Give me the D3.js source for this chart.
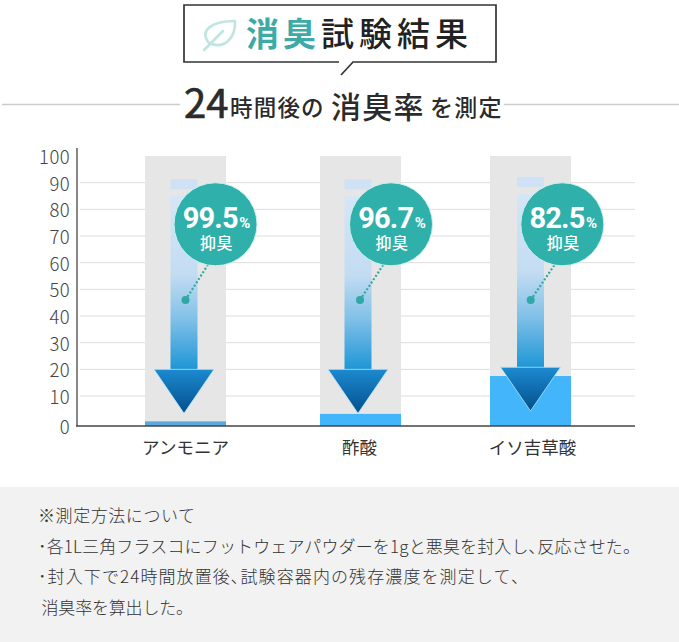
<!DOCTYPE html>
<html lang="ja">
<head>
<meta charset="utf-8">
<script src="https://cdn.jsdelivr.net/npm/d3@7/dist/d3.min.js"></script>
<style>
html,body{margin:0;padding:0;background:#fff;overflow:hidden}
svg{display:block}
text{font-family:"Noto Sans CJK JP","Noto Sans",sans-serif}
</style>
</head>
<body>
<svg id="chart" width="679" height="642"></svg>
<script>
// Deodorising test results: odour remaining after 24 hours, per substance
const categories = ["アンモニア", "酢酸", "イソ吉草酸"];
const reductionRates = [99.5, 96.7, 82.5];
const yTicks = [0, 10, 20, 30, 40, 50, 60, 70, 80, 90, 100];
const notes = [
  "※測定方法について",
  "･各1L三角フラスコにフットウェアパウダーを1gと悪臭を封入し､反応させた。",
  "･封入下で24時間放置後､試験容器内の残存濃度を測定して､",
  " 消臭率を算出した。"
];

const svg = d3.select("#chart");
const defs = svg.append("defs");

const y = d3.scaleLinear().domain([0, 100]).range([422.7, 156]);
const x = d3.scaleOrdinal().domain(categories).range([145, 320, 490]);
const barWidth = 81;
const baseY = 426;

// Header box with its speech-bubble tail
svg.append("path")
  .attr("d", "M339,62H184V5H496V62H353L341,75")
  .attr("fill", "none").attr("stroke", "#333").attr("stroke-width", 1.7);

// Leaf icon
const leaf = svg.append("g").attr("fill", "none").attr("stroke", "#bfe5e1")
  .attr("stroke-width", 2.6).attr("stroke-linecap", "round").attr("stroke-linejoin", "round");
leaf.append("path").attr("d", "M209,43C198,30 213,21 235,21C236,38 224,50 209,43Z");
leaf.append("path").attr("d", "M204,50L223,31");

svg.append("text").attr("x", 246).attr("y", 46).attr("font-size", 33).attr("font-weight", 700)
  .attr("letter-spacing", 4).attr("fill", "#3eaaa6").text("消臭");
svg.append("text").attr("x", 321).attr("y", 46).attr("font-size", 33).attr("font-weight", 500)
  .attr("letter-spacing", 5).attr("fill", "#222").text("試験結果");

// Subtitle flanked by rules
svg.append("line").attr("x1", 2).attr("x2", 180).attr("y1", 104.5).attr("y2", 104.5)
  .attr("stroke", "#ccc").attr("stroke-width", 1.4);
svg.append("line").attr("x1", 504).attr("x2", 679).attr("y1", 104.5).attr("y2", 104.5)
  .attr("stroke", "#ccc").attr("stroke-width", 1.4);
const subtitle = svg.append("g").attr("fill", "#2b2b2b").attr("font-weight", 500);
subtitle.append("text").attr("x", 184).attr("y", 118).attr("font-size", 40)
  .attr("font-family", "Liberation Sans").attr("font-weight", 400).attr("stroke", "#2b2b2b").attr("stroke-width", 0.7).text("24");
subtitle.append("text").attr("x", 230).attr("y", 116).attr("font-size", 22.5).attr("letter-spacing", 1.2).text("時間後の");
subtitle.append("text").attr("x", 331).attr("y", 118).attr("font-size", 30).attr("letter-spacing", 1.2).text("消臭率");
subtitle.append("text").attr("x", 430).attr("y", 116).attr("font-size", 23).attr("letter-spacing", 1.2).text("を測定");

// Gridlines sit behind the bars
const gridRight = 635;
svg.append("g").selectAll("line").data(yTicks.filter(t => t > 0 && t < 100)).join("line")
  .attr("x1", 80).attr("x2", gridRight)
  .attr("y1", d => y(d)).attr("y2", d => y(d))
  .attr("stroke", "#ddd").attr("stroke-width", 1);

// Full-height grey tracks
svg.append("g").selectAll("rect").data(categories).join("rect")
  .attr("x", d => x(d)).attr("width", barWidth)
  .attr("y", y(100)).attr("height", d => baseY - y(100))
  .attr("fill", "#e6e6e6");

// Remaining odour = 100 - reduction rate
svg.append("g").selectAll("rect").data(categories).join("rect")
  .attr("x", d => x(d)).attr("width", barWidth)
  .attr("y", (d, i) => y(100 - reductionRates[i]))
  .attr("height", (d, i) => baseY - y(100 - reductionRates[i]))
  .attr("fill", (d, i) => i === 0 ? "#5aa9de" : "#43b5fa");

// Axes
const yAxis = svg.append("g").attr("transform", "translate(77,0)")
  .call(d3.axisLeft(y).tickValues(yTicks).tickSize(0).tickPadding(7));
yAxis.select(".domain").remove();
yAxis.selectAll("text")
  .attr("font-family", "Roboto").attr("font-weight", 300).attr("font-size", 18.5).attr("fill", "#444")
  .attr("letter-spacing", 0.4)
  .attr("dy", d => d === 0 ? "0.6em" : "0.4em");
svg.append("line").attr("x1", 77).attr("x2", 77).attr("y1", 148).attr("y2", baseY)
  .attr("stroke", "#555").attr("stroke-width", 1.4);
svg.append("line").attr("x1", 76).attr("x2", gridRight).attr("y1", baseY).attr("y2", baseY)
  .attr("stroke", "#444").attr("stroke-width", 1.4);

const labelShift = [0, -1, 2];
svg.append("g").selectAll("text").data(categories).join("text")
  .attr("x", (d, i) => x(d) + barWidth / 2 + labelShift[i]).attr("y", 454)
  .attr("text-anchor", "middle").attr("font-size", 17.5).attr("font-weight", 400)
  .attr("fill", "#333").text(d => d);

// Down arrows and callouts, placed in axis units around each band
const arrowShift = [-1.5, -2.5, 0];
const arrowTop = [91.3, 91.2, 92.2];
const arrowHead = [20, 20, 20.8];
const arrowTip = [3.5, 3.5, 4.4];
const calloutShift = [31.5, 33, 31.8];
const dotShift = [1.5, 2, 0.2];
const shaftHalf = 13.5, headHalf = 30, bandDrop = 3.3;

const shaftGrad = defs.append("linearGradient").attr("id", "shaft").attr("x1", 0).attr("x2", 0).attr("y1", 0).attr("y2", 1);
[[0, "#d6e6f7"], [0.45, "#c3dcf2"], [0.7, "#82c1e8"], [1, "#1c95d6"]].forEach(s =>
  shaftGrad.append("stop").attr("offset", s[0]).attr("stop-color", s[1]));
const headGrad = defs.append("linearGradient").attr("id", "head").attr("x1", 0).attr("x2", 0).attr("y1", 0).attr("y2", 1);
[[0, "#1c8ad0"], [1, "#034f8c"]].forEach(s =>
  headGrad.append("stop").attr("offset", s[0]).attr("stop-color", s[1]));

const line = d3.line();
const arrows = svg.append("g").selectAll("g").data(categories).join("g")
  .attr("transform", (d, i) => `translate(${x(d) + barWidth / 2 + arrowShift[i]},0)`);
arrows.append("rect").attr("x", -shaftHalf).attr("width", shaftHalf * 2)
  .attr("y", (d, i) => y(arrowTop[i])).attr("height", 10).attr("fill", "#cfe1f5");
arrows.append("rect").attr("x", -shaftHalf).attr("width", shaftHalf * 2)
  .attr("y", (d, i) => y(arrowTop[i] - bandDrop - 3))
  .attr("height", (d, i) => y(arrowHead[i]) - y(arrowTop[i] - bandDrop - 3) + 1)
  .attr("fill", "url(#shaft)");
arrows.append("path")
  .attr("d", (d, i) => line([[-headHalf, y(arrowHead[i])], [headHalf, y(arrowHead[i])], [0, y(arrowTip[i])]]) + "Z")
  .attr("fill", "url(#head)").attr("stroke", "#b5e6f7").attr("stroke-width", 0.8);

const callouts = arrows.append("g");
const cyVal = 74.4, dotVal = 46;
callouts.append("line")
  .attr("x1", (d, i) => dotShift[i]).attr("y1", y(dotVal))
  .attr("x2", (d, i) => calloutShift[i] - 6).attr("y2", y(cyVal) + 38)
  .attr("stroke", "#2fa8a6").attr("stroke-width", 2.2).attr("stroke-dasharray", "2 2");
callouts.append("circle").attr("cx", (d, i) => dotShift[i]).attr("cy", y(dotVal)).attr("r", 4).attr("fill", "#2fa8a6");
callouts.append("circle")
  .attr("cx", (d, i) => calloutShift[i]).attr("cy", y(cyVal)).attr("r", 41.5)
  .attr("fill", "#2fb0aa").attr("stroke", "#c9f0ee").attr("stroke-width", 1);
const rate = callouts.append("text")
  .attr("x", (d, i) => calloutShift[i] + 1).attr("y", y(cyVal) + 4)
  .attr("text-anchor", "middle").attr("fill", "#fff");
rate.append("tspan").attr("font-family", "Roboto").attr("font-weight", 700).attr("font-size", 29)
  .attr("letter-spacing", -0.8).text((d, i) => reductionRates[i].toFixed(1));
rate.append("tspan").attr("font-family", "Roboto").attr("font-weight", 700).attr("font-size", 15).attr("dx", 1.5).text("%");
callouts.append("text")
  .attr("x", (d, i) => calloutShift[i] + 1).attr("y", y(cyVal) + 25)
  .attr("text-anchor", "middle").attr("fill", "#fff").attr("font-size", 16).attr("font-weight", 500)
  .attr("letter-spacing", 0.6).text("抑臭");

// Footnote panel
svg.append("rect").attr("x", 0).attr("y", 487).attr("width", 679).attr("height", 155).attr("fill", "#f2f2f2");
const noteY = [522, 553, 583, 614];
const noteWidth = [157, 602, 482, 155];
svg.append("g").selectAll("text").data(notes).join("text")
  .attr("x", 38).attr("y", (d, i) => noteY[i])
  .attr("font-size", 17).attr("font-weight", 300).attr("fill", "#333")
  .attr("textLength", (d, i) => noteWidth[i]).attr("lengthAdjust", "spacing")
  .style("white-space", "pre")
  .text(d => d);
</script>
</body>
</html>
